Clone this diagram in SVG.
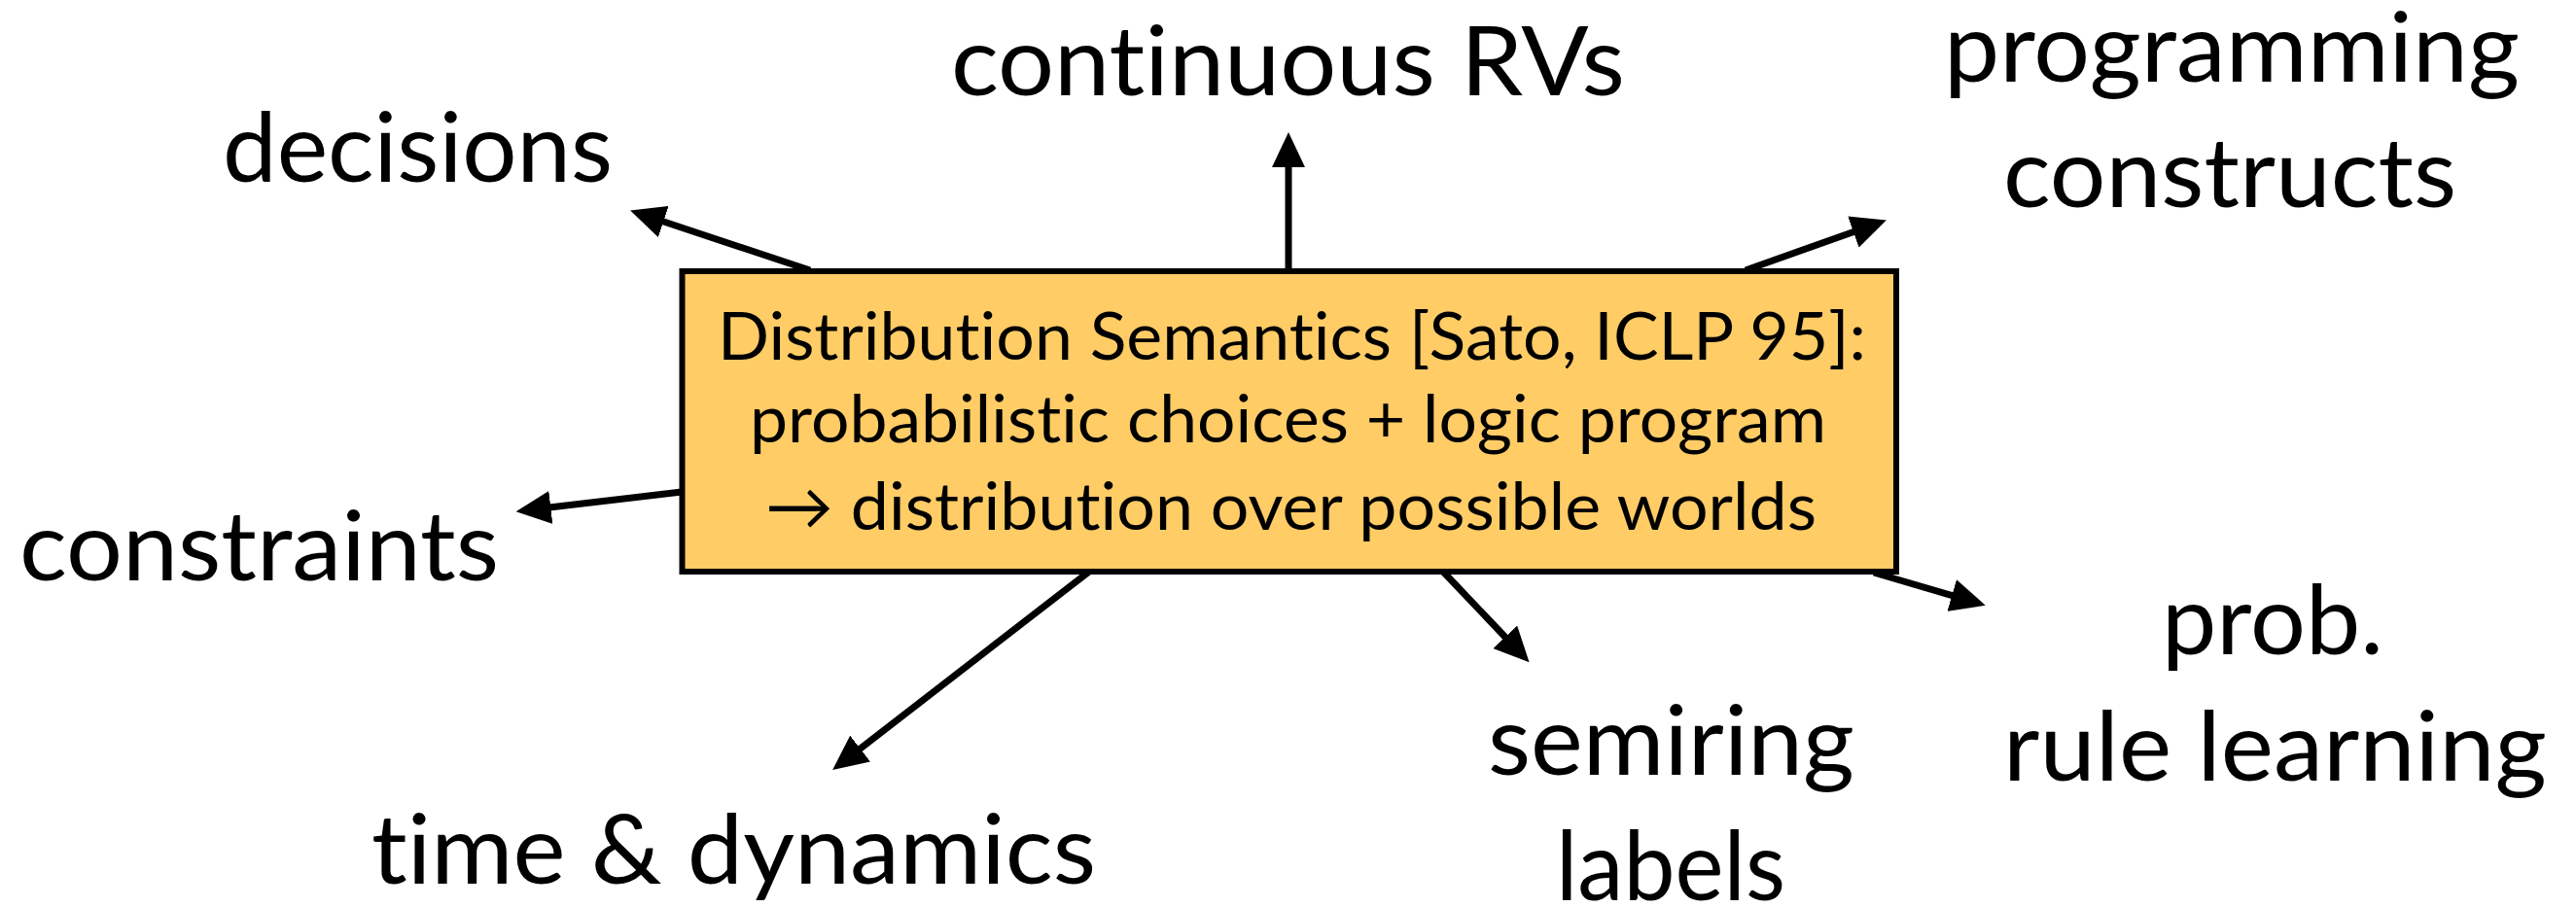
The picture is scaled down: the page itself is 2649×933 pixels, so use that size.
<svg xmlns="http://www.w3.org/2000/svg" width="2649" height="933" viewBox="0 0 2649 933">
  <style>
    .label { font-family: Lato, "Open Sans", "Liberation Sans", sans-serif; fill: #000; font-variant-ligatures: none; font-feature-settings: "liga" 0, "clig" 0; }
    .big { font-size: 98px; }
    .core { font-size: 68px; }
    .edge { stroke: #000; stroke-width: 7; fill: none; marker-end: url(#head); }
    .hub { fill: #FFCC66; stroke: #000; stroke-width: 6; }
  </style>
  <defs>
    <marker id="head" markerUnits="userSpaceOnUse" markerWidth="36" markerHeight="34" refX="10" refY="17" orient="auto">
      <path d="M0,0 L36,17 L0,34 z" fill="#000"/>
    </marker>
  </defs>
  <rect width="2649" height="933" fill="#fff"/>

  <!-- connectors from the central box to each extension -->
  <g id="connectors">
    <line class="edge" x1="833" y1="278" x2="672.8" y2="224.8"/>
    <line class="edge" x1="1325" y1="279" x2="1325" y2="162"/>
    <line class="edge" x1="1795" y1="278" x2="1915.3" y2="235.2"/>
    <line class="edge" x1="701" y1="506" x2="556.4" y2="523.1"/>
    <line class="edge" x1="1120" y1="588" x2="876.7" y2="776.2"/>
    <line class="edge" x1="1484" y1="588" x2="1554.7" y2="662.5"/>
    <line class="edge" x1="1927" y1="589" x2="2016.8" y2="615.4"/>
  </g>

  <!-- central node -->
  <g id="distribution-semantics">
    <rect class="hub" x="701.5" y="279" width="1248.5" height="309"/>
    <text class="label core" x="738" y="370" textLength="1181" lengthAdjust="spacingAndGlyphs">Distribution Semantics [Sato, ICLP 95]:</text>
    <text class="label core" x="771" y="455" textLength="1107" lengthAdjust="spacingAndGlyphs">probabilistic choices + logic program</text>
    <text class="label core" x="787" y="545" textLength="1081" lengthAdjust="spacingAndGlyphs">→ distribution over possible worlds</text>
  </g>

  <g id="decisions">
    <text class="label big" x="229" y="187" textLength="401" lengthAdjust="spacingAndGlyphs">decisions</text>
  </g>
  <g id="continuous-rvs">
    <text class="label big" x="978" y="98" textLength="693" lengthAdjust="spacingAndGlyphs">continuous RVs</text>
  </g>
  <g id="programming-constructs">
    <text class="label big" x="1999" y="84" textLength="592" lengthAdjust="spacingAndGlyphs">programming</text>
    <text class="label big" x="2060" y="213" textLength="466" lengthAdjust="spacingAndGlyphs">constructs</text>
  </g>
  <g id="constraints">
    <text class="label big" x="20" y="597" textLength="493" lengthAdjust="spacingAndGlyphs">constraints</text>
  </g>
  <g id="time-dynamics">
    <text class="label big" x="382" y="909" textLength="745" lengthAdjust="spacingAndGlyphs">time &amp; dynamics</text>
  </g>
  <g id="semiring-labels">
    <text class="label big" x="1530" y="797" textLength="377" lengthAdjust="spacingAndGlyphs">semiring</text>
    <text class="label big" x="1600" y="926" textLength="236" lengthAdjust="spacingAndGlyphs">labels</text>
  </g>
  <g id="prob-rule-learning">
    <text class="label big" x="2223" y="673" textLength="228" lengthAdjust="spacingAndGlyphs">prob.</text>
    <text class="label big" x="2060" y="803" textLength="559" lengthAdjust="spacingAndGlyphs">rule learning</text>
  </g>
</svg>
